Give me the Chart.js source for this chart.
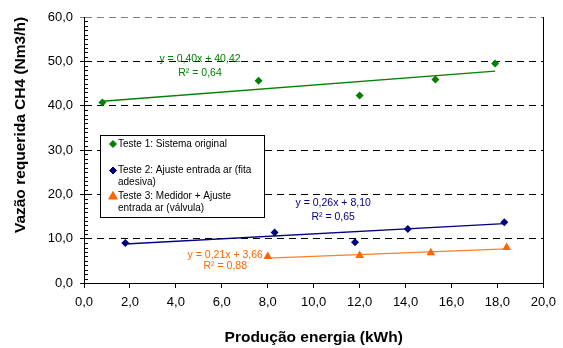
<!DOCTYPE html>
<html>
<head>
<meta charset="utf-8">
<script src="https://cdn.jsdelivr.net/npm/chart.js@4.4.0/dist/chart.umd.min.js"></script>
<style>
  html, body { margin: 0; padding: 0; background: #fff; }
</style>
</head>
<body>
<canvas id="myChart" width="563" height="348"></canvas>
<script>
// values
let teste1X = [0.8, 7.6, 12.0, 15.3, 17.9];
let teste1Y = [40.7, 45.6, 42.3, 45.9, 49.5];

let teste2X = [1.8, 8.3, 11.8, 14.1, 18.3];
let teste2Y = [9.0, 11.4, 9.2, 12.2, 13.7];

let teste3X = [8.0, 12.0, 15.1, 18.4];
let teste3Y = [6.0, 6.2, 6.8, 8.0];

// trend lines: first and last point as seen in the picture
let trend1X = [0.8, 17.9];
let trend1Y = [41.0, 47.8];
let trend2X = [1.8, 18.3];
let trend2Y = [8.8, 13.4];
let trend3X = [8.0, 18.4];
let trend3Y = [5.6, 7.7];

let xTicks = [0, 2, 4, 6, 8, 10, 12, 14, 16, 18, 20];
let yTicks = [0, 10, 20, 30, 40, 50, 60];

let seriesNames = [
  ['Teste 1: Sistema original'],
  ['Teste 2: Ajuste entrada ar (fita', 'adesiva)'],
  ['Teste 3: Medidor + Ajuste', 'entrada ar (válvula)']
];
let equations = ['y = 0,40x + 40,42', 'y = 0,26x + 8,10', 'y = 0,21x + 3,66'];
let rSquared = ['R² = 0,64', 'R² = 0,65', 'R² = 0,88'];

const FONT = '"Liberation Sans", Arial, sans-serif';
const green = '#008000';
const navy = '#000080';
const orange = '#FF6600';

function pts(xs, ys) {
  return xs.map((x, i) => ({ x: x, y: ys[i] }));
}
function fmt(v) {
  return v.toFixed(1).replace('.', ',');
}

// extra drawing: minor ticks, right border, legend, equations, axis titles
const extras = {
  id: 'extras',
  afterDraw(chart) {
    const ctx = chart.ctx;
    const a = chart.chartArea;
    const xs = chart.scales.x, ys = chart.scales.y;
    ctx.save();

    // minor ticks on the y axis (inside)
    ctx.strokeStyle = '#000';
    ctx.lineWidth = 1;
    ctx.beginPath();
    for (let v = 1; v < 60; v++) {
      if (v % 10 === 0) continue;
      const py = Math.round(ys.getPixelForValue(v)) + 0.5;
      ctx.moveTo(a.left, py);
      ctx.lineTo(a.left + 4, py);
    }
    // right border
    ctx.moveTo(Math.round(a.right) + 0.5, a.top);
    ctx.lineTo(Math.round(a.right) + 0.5, a.bottom);
    ctx.stroke();

    // legend box
    const lx = 100, ly = 135, lw = 164, lh = 82;
    ctx.fillStyle = '#fff';
    ctx.fillRect(lx, ly, lw, lh);
    ctx.strokeStyle = '#000';
    ctx.strokeRect(lx + 0.5, ly + 0.5, lw, lh);
    const rows = [144, 170.5, 196.5];
    const colors = [green, navy, orange];
    const styles = ['rectRot', 'rectRot', 'triangle'];
    ctx.font = '10px ' + FONT;
    ctx.textBaseline = 'middle';
    ctx.textAlign = 'left';
    seriesNames.forEach((lines, i) => {
      ctx.fillStyle = colors[i];
      ctx.strokeStyle = colors[i];
      Chart.helpers.drawPoint(ctx, { pointStyle: styles[i], radius: styles[i] === 'triangle' ? 5 : 3.5, borderWidth: 1 }, 113, rows[i]);
      ctx.fillStyle = '#000';
      lines.forEach((t, j) => ctx.fillText(t, 118, rows[i] + j * 11.5));
    });

    // trend equations
    const eqPos = [[5.05, 50.4, 47.4], [10.85, 18.0, 14.8], [6.15, 6.3, 3.7]];
    ctx.textAlign = 'center';
    ctx.font = '10.5px ' + FONT;
    eqPos.forEach((p, i) => {
      ctx.fillStyle = colors[i];
      const px = xs.getPixelForValue(p[0]);
      ctx.fillText(equations[i], px, ys.getPixelForValue(p[1]));
      ctx.fillText(rSquared[i], px, ys.getPixelForValue(p[2]));
    });

    // axis titles
    ctx.fillStyle = '#000';
    ctx.font = 'bold 15.5px ' + FONT;
    ctx.fillText('Produção energia (kWh)', (a.left + a.right) / 2, 338);
    ctx.translate(21, 125);
    ctx.rotate(-Math.PI / 2);
    ctx.fillText('Vazão requerida CH4 (Nm3/h)', 0, 0);
    ctx.restore();
  }
};

const ctx = document.getElementById('myChart').getContext('2d');
const chart = new Chart(ctx, {
  type: 'scatter',
  data: {
    datasets: [
      { label: 'Teste 1', data: pts(teste1X, teste1Y), backgroundColor: green, borderColor: green, pointStyle: 'rectRot', pointRadius: 4, pointBorderWidth: 0 },
      { label: 'Teste 2', data: pts(teste2X, teste2Y), backgroundColor: navy, borderColor: navy, pointStyle: 'rectRot', pointRadius: 4, pointBorderWidth: 0 },
      { label: 'Teste 3', data: pts(teste3X, teste3Y), backgroundColor: orange, borderColor: orange, pointStyle: 'triangle', pointRadius: 5, pointBorderWidth: 0 },
      { label: 'trend 1', data: pts(trend1X, trend1Y), showLine: true, borderColor: green, borderWidth: 1.3, pointRadius: 0 },
      { label: 'trend 2', data: pts(trend2X, trend2Y), showLine: true, borderColor: navy, borderWidth: 1.3, pointRadius: 0 },
      { label: 'trend 3', data: pts(trend3X, trend3Y), showLine: true, borderColor: '#FF7F27', borderWidth: 1.3, pointRadius: 0 }
    ]
  },
  options: {
    responsive: false,
    animation: false,
    devicePixelRatio: 1,
    layout: { padding: { left: 0, right: 16, top: 17, bottom: 0 } },
    plugins: { legend: { display: false }, tooltip: { enabled: false } },
    scales: {
      x: {
        type: 'linear', min: 0, max: 20,
        afterBuildTicks: s => { s.ticks = xTicks.map(v => ({ value: v })); },
        afterFit: s => { s.height = 65; },
        ticks: { color: '#000', font: { family: FONT, size: 13 }, padding: 7, maxRotation: 0, callback: v => fmt(v) },
        grid: { drawOnChartArea: false, drawTicks: true, tickLength: 5, color: '#000' },
        border: { color: '#000', width: 1 }
      },
      y: {
        type: 'linear', min: 0, max: 60,
        afterBuildTicks: s => { s.ticks = yTicks.map(v => ({ value: v })); },
        afterFit: s => { s.width = 84; },
        ticks: { color: '#000', font: { family: FONT, size: 13 }, padding: 7, callback: v => fmt(v) },
        grid: { color: c => (c.tick && c.tick.value === 60) ? '#808080' : '#000', tickLength: 4, tickBorderDash: [] },
        border: { color: '#000', width: 1, dash: [7, 5] }
      }
    }
  },
  plugins: [extras]
});
</script>
</body>
</html>
